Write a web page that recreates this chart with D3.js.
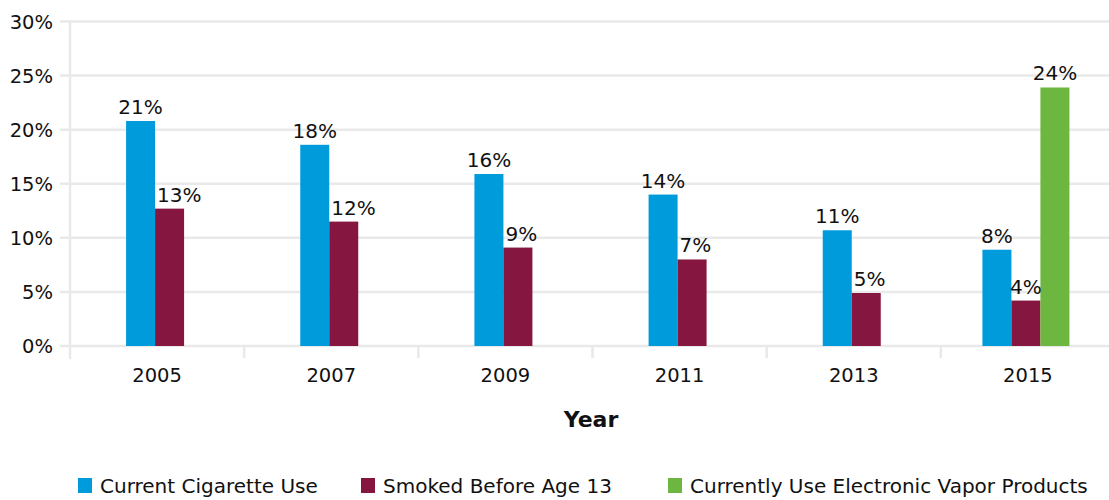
<!DOCTYPE html>
<html><head><meta charset="utf-8">
<script src="https://cdn.jsdelivr.net/npm/d3@7"></script>
<style>body{margin:0;background:#fff}svg{display:block}text{font-family:"DejaVu Sans",sans-serif;fill:#111}</style>
</head><body><svg id="c" width="1109" height="500"></svg>
<script>
const years = ["2005","2007","2009","2011","2013","2015"];
const seriesNames = ["Current Cigarette Use","Smoked Before Age 13","Currently Use Electronic Vapor Products"];
const cigarette = [20.8, 18.6, 15.9, 14.0, 10.7, 8.9];
const before13 = [12.7, 11.5, 9.1, 8.0, 4.9, 4.2];
const vapor = [null, null, null, null, null, 23.9];
const labelsCig = ["21%","18%","16%","14%","11%","8%"];
const labelsB13 = ["13%","12%","9%","7%","5%","4%"];
const labelsVap = [null,null,null,null,null,"24%"];
const yTicks = [0,5,10,15,20,25,30];
const colors = ["#009bdb","#85163f","#6db640"];

const svg = d3.select("#c");
const x = d3.scaleBand().domain(years).range([70, 1115]).padding(0);
const y = d3.scaleLinear().domain([0,30]).range([346, 21.5]);
const barW = 29;

svg.append("g").selectAll("line").data(yTicks).join("line")
  .attr("x1", 60).attr("x2", 1109).attr("y1", d=>y(d)).attr("y2", d=>y(d))
  .attr("stroke", "#e9e9ea").attr("stroke-width", 2.5);
svg.append("line").attr("x1",70).attr("x2",70).attr("y1",y(30)).attr("y2",359)
  .attr("stroke","#e9e9ea").attr("stroke-width",2.5);
svg.append("g").selectAll("line").data(years.slice(1)).join("line")
  .attr("x1", d=>x(d)).attr("x2", d=>x(d)).attr("y1", 346).attr("y2", 358)
  .attr("stroke","#e9e9ea").attr("stroke-width",2.5);
svg.append("g").selectAll("text").data(yTicks).join("text")
  .attr("x", 53).attr("y", d=>y(d)).attr("dy","0.36em").attr("text-anchor","end")
  .attr("font-size",19.5).text(d=>d+"%");
svg.append("g").selectAll("text").data(years).join("text")
  .attr("x", d=>x(d)+x.bandwidth()/2).attr("y", 382).attr("text-anchor","middle")
  .attr("font-size",19.5).text(d=>d);
svg.append("text").attr("x", 591).attr("y", 427).attr("text-anchor","middle")
  .attr("font-size",22).attr("font-weight","bold").text("Year");

const all = [cigarette, before13, vapor];
const labs = [labelsCig, labelsB13, labelsVap];
const bars = [];
years.forEach((yr, i) => {
  const present = [0,1,2].filter(s => all[s][i] != null);
  const start = x(yr) + x.bandwidth()/2 - present.length*barW/2 - 2;
  present.forEach((s, k) => {
    bars.push({yr, s, v: all[s][i], lab: labs[s][i], x0: start + k*barW, n: present.length, k});
  });
});
svg.append("g").selectAll("rect").data(bars).join("rect")
  .attr("x", d=>d.x0).attr("width", barW).attr("y", d=>y(d.v)).attr("height", d=>y(0)-y(d.v))
  .attr("fill", d=>colors[d.s]);
svg.append("g").selectAll("text").data(bars).join("text")
  .attr("x", d=> (d.s===1 && d.k===d.n-1) ? d.x0+2 : d.x0+barW/2)
  .attr("text-anchor", d=> (d.s===1 && d.k===d.n-1) ? "start" : "middle")
  .attr("y", d=>y(d.v)-7).attr("font-size",20).text(d=>d.lab);

const legX = [78, 361, 668];
const lg = svg.append("g").selectAll("g").data(seriesNames).join("g")
  .attr("transform", (d,i)=>`translate(${legX[i]},478)`);
lg.append("rect").attr("width",14).attr("height",15).attr("fill",(d,i)=>colors[i]);
lg.append("text").attr("x",22).attr("y",7.5).attr("dy","0.36em").attr("font-size",20).text(d=>d);
</script></body></html>
